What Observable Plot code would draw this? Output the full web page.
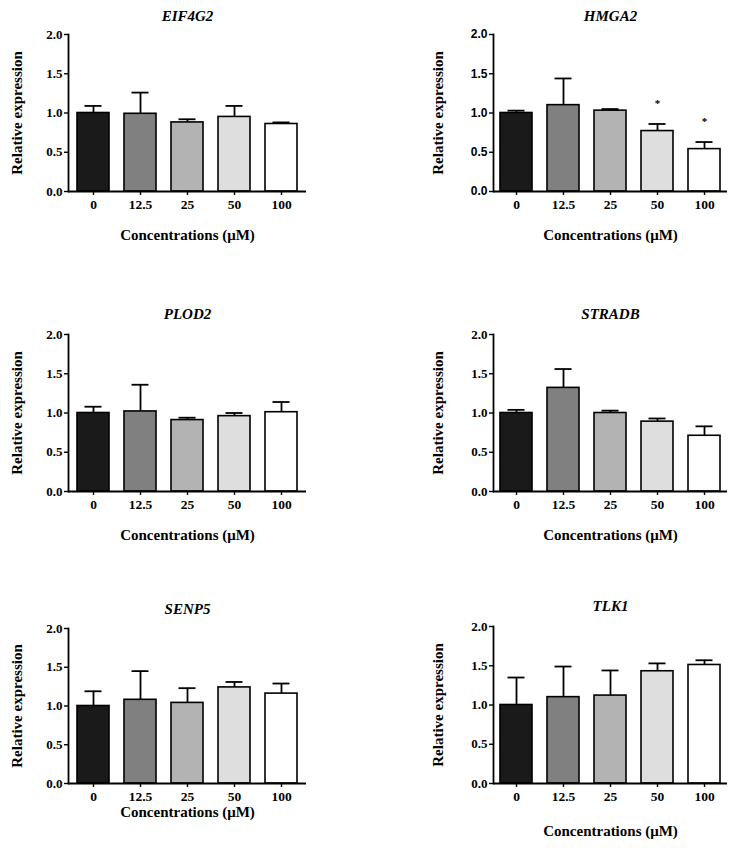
<!DOCTYPE html>
<html><head><meta charset="utf-8">
<script src="https://cdn.jsdelivr.net/npm/d3@7"></script>
<script src="https://cdn.jsdelivr.net/npm/@observablehq/plot@0.6"></script>
<style>
body{margin:0;background:#fff}
#chart{position:relative;width:743px;height:851px;background:#fff}
.panel{position:absolute}
</style>
</head><body><div id="chart"></div>
<script>
const concentrations = ["0", "12.5", "25", "50", "100"];
const barColors = ["#1a1a1a", "#808080", "#b3b3b3", "#dedede", "#ffffff"];
const yTicks = [0, 0.5, 1.0, 1.5, 2.0];
const geneNames = ["EIF4G2", "HMGA2", "PLOD2", "STRADB", "SENP5", "TLK1"];
const xTitle = "Concentrations (μM)";
const yTitle = "Relative expression";

const eif4g2Mean = [1.00, 0.99, 0.88, 0.95, 0.86];
const eif4g2Sd   = [0.09, 0.27, 0.04, 0.14, 0.02];
const hmga2Mean  = [1.00, 1.10, 1.03, 0.77, 0.54];
const hmga2Sd    = [0.03, 0.34, 0.02, 0.09, 0.09];
const hmga2Sig   = ["", "", "", "*", "*"];
const plod2Mean  = [1.00, 1.02, 0.91, 0.96, 1.01];
const plod2Sd    = [0.08, 0.34, 0.03, 0.04, 0.13];
const stradbMean = [1.00, 1.32, 1.00, 0.89, 0.71];
const stradbSd   = [0.04, 0.24, 0.03, 0.04, 0.12];
const senp5Mean  = [1.00, 1.08, 1.04, 1.24, 1.16];
const senp5Sd    = [0.19, 0.37, 0.19, 0.07, 0.13];
const tlk1Mean   = [1.00, 1.10, 1.12, 1.43, 1.51];
const tlk1Sd     = [0.35, 0.39, 0.32, 0.10, 0.06];

const serif = "'Liberation Serif', 'Times New Roman', serif";
const sans = "'Liberation Sans', Arial, sans-serif";

function panel(p) {
  const data = concentrations.map((c, i) => ({
    c, mean: p.mean[i], upper: p.mean[i] + p.sd[i], sig: p.sig ? p.sig[i] : ""
  }));
  const chart = Plot.plot({
    width: p.width, height: p.height,
    marginLeft: p.ml, marginRight: p.mr, marginTop: p.mt, marginBottom: p.mb,
    style: {fontFamily: serif, fontWeight: "bold", background: "white", color: "black", overflow: "visible"},
    x: {type: "band", domain: concentrations, paddingInner: p.pi, paddingOuter: p.po, axis: null},
    y: {domain: [0, 2], axis: null},
    color: {domain: concentrations, range: barColors},
    marks: [
      Plot.barY(data, {x: "c", y: "mean", fill: "c", stroke: "black", strokeWidth: 1.6}),
      Plot.ruleX(data, {x: "c", y1: "mean", y2: "upper", stroke: "black", strokeWidth: 1.8}),
      Plot.tickY(data, {x: "c", y: "upper", stroke: "black", strokeWidth: 1.8, insetLeft: 7.5, insetRight: 7.5}),
      Plot.text(data.filter(d => d.sig), {x: "c", y: "upper", text: "sig", dy: -21, fontSize: 11}),
      Plot.ruleY([0], {stroke: "black", strokeWidth: 1.8}),
      Plot.frame({anchor: "left", stroke: "black", strokeWidth: 1.8}),
      Plot.axisX({tickSize: 4, tickPadding: 4, fontSize: 13.5, fontWeight: "bold", strokeWidth: 1.4, label: null}),
      Plot.axisY({ticks: yTicks, tickFormat: d3.format(".1f"), tickSize: 4, tickPadding: 2, fontSize: p.yTickSize, fontWeight: "bold", strokeWidth: 1.4, fontFamily: p.yTickFont, label: null}),
      Plot.text([p.gene], {text: d => d, frameAnchor: "top", dy: p.titleDy, fontStyle: "italic", fontSize: 15}),
      Plot.text([xTitle], {text: d => d, frameAnchor: "bottom", dy: p.xTitleDy, fontSize: 15}),
      Plot.text([yTitle], {text: d => d, frameAnchor: "left", textAnchor: "middle", dx: p.yTitleDx, rotate: -90, fontSize: 15})
    ]
  });
  chart.classList.add("panel");
  chart.style.left = p.left + "px";
  chart.style.top = p.top + "px";
  document.getElementById("chart").appendChild(chart);
}

const leftCol = {left: 0, width: 370, ml: 68, mr: 64, pi: 0.32, po: 0.19, yTitleDx: -51, yTickFont: serif, yTickSize: 13};
const rightCol = {left: 420, width: 323, ml: 73, mr: 16, pi: 0.326, po: 0.126, yTitleDx: -55, yTickFont: serif, yTickSize: 13};

panel({...leftCol, gene: geneNames[0], mean: eif4g2Mean, sd: eif4g2Sd, top: 0, height: 260, mt: 34, mb: 69, titleDy: -24, xTitleDy: 48});
panel({...rightCol, yTickFont: sans, yTickSize: 12, gene: geneNames[1], mean: hmga2Mean, sd: hmga2Sd, sig: hmga2Sig, top: 0, height: 260, mt: 34, mb: 69, titleDy: -24, xTitleDy: 48});
panel({...leftCol, gene: geneNames[2], mean: plod2Mean, sd: plod2Sd, top: 290, height: 270, mt: 44, mb: 69, titleDy: -26, xTitleDy: 48});
panel({...rightCol, gene: geneNames[3], mean: stradbMean, sd: stradbSd, top: 290, height: 270, mt: 44, mb: 69, titleDy: -26, xTitleDy: 48});
panel({...leftCol, gene: geneNames[4], mean: senp5Mean, sd: senp5Sd, top: 580, height: 271, mt: 48, mb: 68, titleDy: -25, xTitleDy: 33});
panel({...rightCol, gene: geneNames[5], mean: tlk1Mean, sd: tlk1Sd, top: 580, height: 271, mt: 46, mb: 68, titleDy: -26, xTitleDy: 52});
</script>
</body></html>
